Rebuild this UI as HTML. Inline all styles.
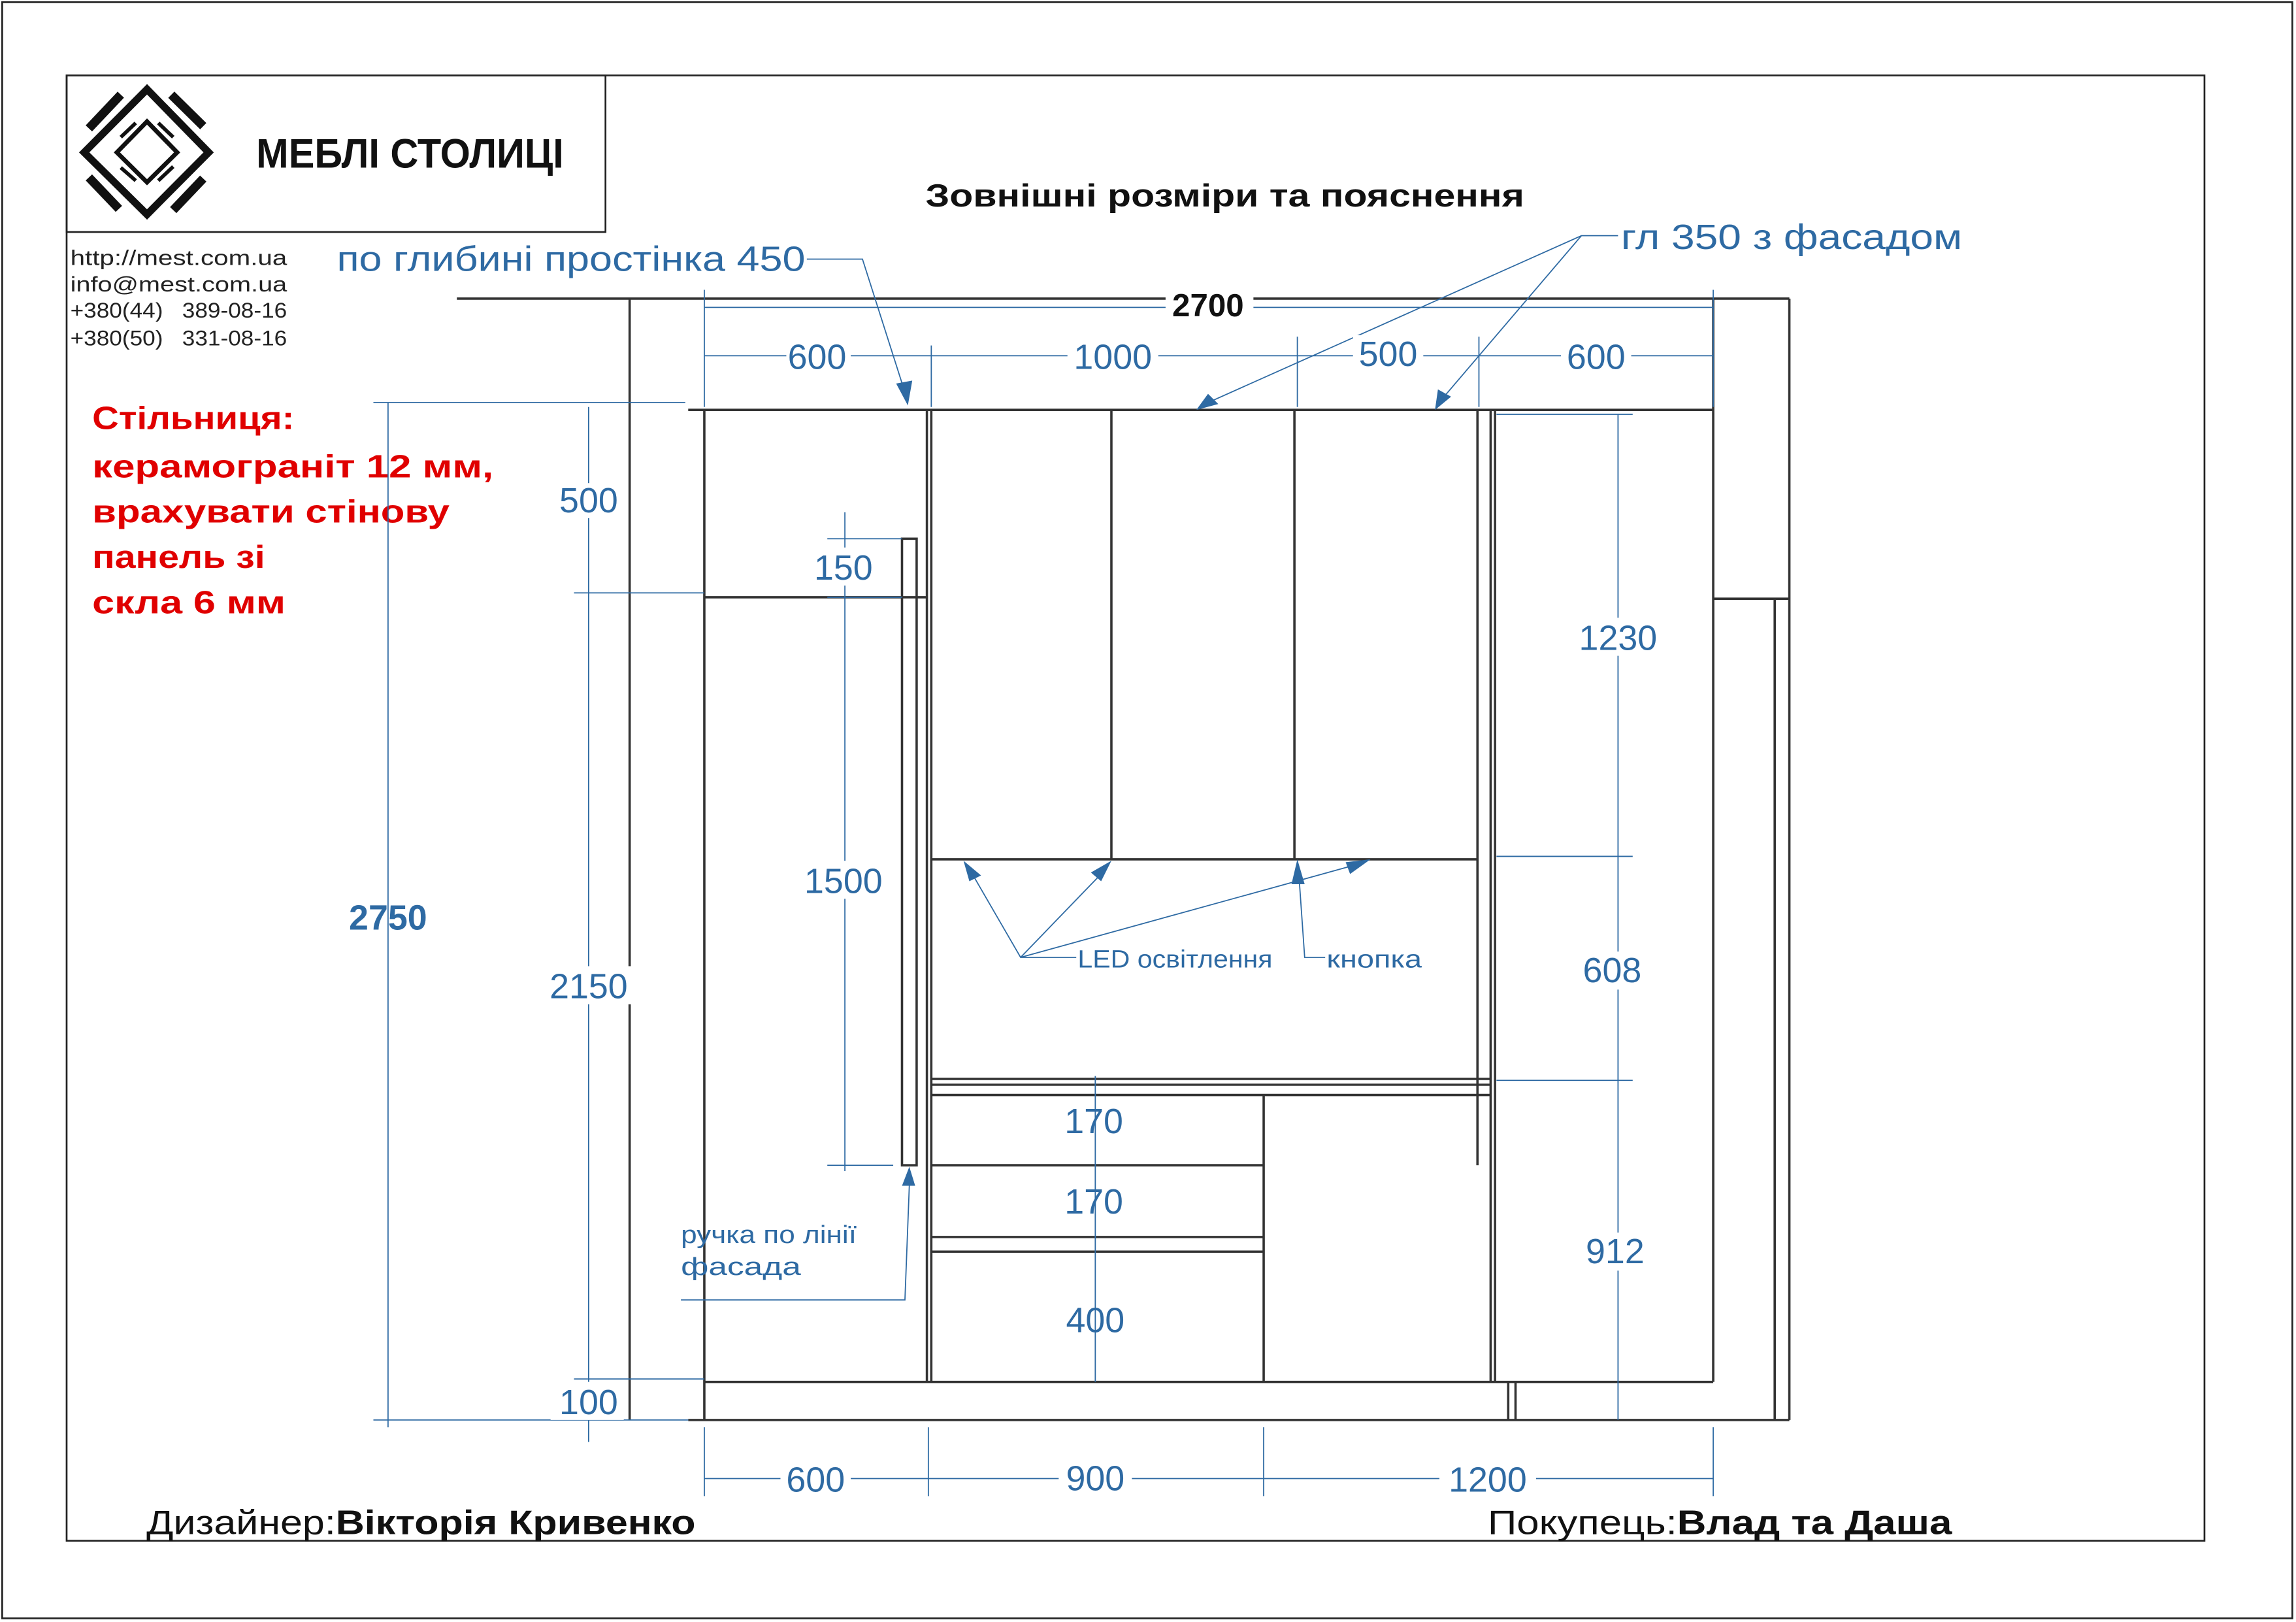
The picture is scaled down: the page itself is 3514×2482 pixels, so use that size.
<!DOCTYPE html>
<html><head><meta charset="utf-8"><style>
html,body{margin:0;padding:0;background:#fff;}
svg{display:block;}
text{font-family:"Liberation Sans","DejaVu Sans",sans-serif;}
.b{fill:#2e6aa3;}
</style></head><body>
<svg width="3514" height="2482" viewBox="0 0 1568 1108" preserveAspectRatio="none" xmlns="http://www.w3.org/2000/svg">
<rect x="0" y="0" width="1568" height="1108" fill="#fff"/>
<rect x="1.5" y="1.5" width="1564" height="1104" fill="none" stroke="#222" stroke-width="1.2"/>
<rect x="45.5" y="51.5" width="1460" height="1001" fill="none" stroke="#222" stroke-width="1.2"/>
<rect x="45.5" y="51.5" width="368" height="107" fill="none" stroke="#222" stroke-width="1.2"/>
<!-- logo -->
<g stroke="#111" fill="none" stroke-linecap="butt">
<polygon points="100.4,61 57.5,104.1 100.4,146.5 142.5,104.1" stroke-width="5"/>
<polygon points="100.4,83 79.8,104.1 100.4,124.5 121,104.1" stroke-width="3"/>
<line x1="60.7" y1="87.7" x2="82.5" y2="64.7" stroke-width="6"/>
<line x1="117" y1="64.7" x2="138.8" y2="86.2" stroke-width="6"/>
<line x1="60.7" y1="121.2" x2="81.2" y2="142.7" stroke-width="6"/>
<line x1="118.3" y1="143.5" x2="138.8" y2="122" stroke-width="6"/>
<line x1="82.5" y1="93.7" x2="92.7" y2="84" stroke-width="2.5"/>
<line x1="108.1" y1="84" x2="118.3" y2="93.7" stroke-width="2.5"/>
<line x1="82.5" y1="114.5" x2="92.7" y2="123.4" stroke-width="2.5"/>
<line x1="108.1" y1="123.4" x2="118.3" y2="113.8" stroke-width="2.5"/>
</g>
<text x="175" y="114.5" font-size="28" font-weight="bold" fill="#111" textLength="210" lengthAdjust="spacingAndGlyphs">МЕБЛІ СТОЛИЦІ</text>
<g font-size="14.5" fill="#222">
<text x="48" y="181" textLength="148" lengthAdjust="spacingAndGlyphs">http://mest.com.ua</text>
<text x="48" y="199" textLength="148" lengthAdjust="spacingAndGlyphs">info@mest.com.ua</text>
<text x="48" y="217" textLength="148" lengthAdjust="spacingAndGlyphs">+380(44)&#160;&#160;&#160;389-08-16</text>
<text x="48" y="236" textLength="148" lengthAdjust="spacingAndGlyphs">+380(50)&#160;&#160;&#160;331-08-16</text>
</g>
<text x="632" y="141" font-size="22" font-weight="bold" fill="#111" textLength="409" lengthAdjust="spacingAndGlyphs">Зовнішні розміри та пояснення</text>
<g font-size="22" font-weight="bold" fill="#e00000">
<text x="63" y="293" textLength="138" lengthAdjust="spacingAndGlyphs">Стільниця:</text>
<text x="63" y="326" textLength="274" lengthAdjust="spacingAndGlyphs">керамограніт 12 мм,</text>
<text x="63" y="357" textLength="244" lengthAdjust="spacingAndGlyphs">врахувати стінову</text>
<text x="63" y="388" textLength="118" lengthAdjust="spacingAndGlyphs">панель зі</text>
<text x="63" y="419" textLength="132" lengthAdjust="spacingAndGlyphs">скла 6 мм</text>
</g>
<!-- walls & furniture -->
<g fill="none" stroke="#333" stroke-width="1.6">
<line x1="312" y1="204" x2="1222" y2="204"/>
<line x1="430" y1="204" x2="430" y2="970"/>
<line x1="1222" y1="204" x2="1222" y2="970"/>
<line x1="1170" y1="204" x2="1170" y2="944"/>
<line x1="1170" y1="409" x2="1222" y2="409"/>
<line x1="1212" y1="409" x2="1212" y2="970"/>
<line x1="470" y1="280" x2="1170" y2="280"/>
<line x1="470" y1="970" x2="1222" y2="970"/>
<line x1="481" y1="280" x2="481" y2="970"/>
<line x1="481" y1="944" x2="1170" y2="944"/>
<line x1="1030" y1="944" x2="1030" y2="970"/><line x1="1035" y1="944" x2="1035" y2="970"/>
<line x1="633" y1="280" x2="633" y2="944"/><line x1="636" y1="280" x2="636" y2="944"/>
<line x1="481" y1="408" x2="633" y2="408"/>
<rect x="616" y="368" width="10" height="428"/>
<line x1="759" y1="280" x2="759" y2="587"/>
<line x1="884" y1="280" x2="884" y2="587"/>
<line x1="636" y1="587" x2="1009" y2="587"/>
<line x1="1009" y1="280" x2="1009" y2="796"/>
<line x1="1018" y1="280" x2="1018" y2="944"/>
<line x1="1021" y1="280" x2="1021" y2="944"/>
<line x1="636" y1="737" x2="1018" y2="737"/>
<line x1="636" y1="741" x2="1018" y2="741"/>
<line x1="636" y1="748" x2="1018" y2="748"/>
<line x1="863" y1="748" x2="863" y2="944"/>
<line x1="636" y1="796" x2="863" y2="796"/>
<line x1="636" y1="845" x2="863" y2="845"/>
<line x1="636" y1="855" x2="863" y2="855"/>
</g>
<g fill="none" stroke="#2e6aa3" stroke-width="0.8">
<line x1="481" y1="210" x2="1170" y2="210"/>
<line x1="481" y1="243" x2="1170" y2="243"/>
<line x1="481" y1="198" x2="481" y2="278"/><line x1="636" y1="236" x2="636" y2="278"/>
<line x1="886" y1="230" x2="886" y2="278"/><line x1="1010" y1="230" x2="1010" y2="278"/>
<line x1="1170" y1="198" x2="1170" y2="278"/>
<line x1="481" y1="1010" x2="1170" y2="1010"/>
<line x1="481" y1="975" x2="481" y2="1022"/><line x1="634" y1="975" x2="634" y2="1022"/>
<line x1="863" y1="975" x2="863" y2="1022"/><line x1="1170" y1="975" x2="1170" y2="1022"/>
<line x1="265" y1="275" x2="265" y2="975"/>
<line x1="255" y1="275" x2="468" y2="275"/><line x1="255" y1="970" x2="470" y2="970"/>
<line x1="402" y1="278" x2="402" y2="985"/>
<line x1="392" y1="405" x2="481" y2="405"/><line x1="392" y1="942" x2="481" y2="942"/>
<line x1="577" y1="350" x2="577" y2="800"/>
<line x1="565" y1="368" x2="616" y2="368"/><line x1="565" y1="408" x2="616" y2="408"/><line x1="565" y1="796" x2="610" y2="796"/>
<line x1="1105" y1="283" x2="1105" y2="970"/>
<line x1="1022" y1="283" x2="1115" y2="283"/>
<line x1="1022" y1="585" x2="1115" y2="585"/><line x1="1022" y1="738" x2="1115" y2="738"/>
<line x1="748" y1="735" x2="748" y2="944"/>
<polyline points="551,177 589,177 618,268"/>
<polyline points="1105,161 1080,161 825,275"/>
<line x1="1080" y1="161" x2="987" y2="270"/>
<polyline points="735,654 697,654 664,597"/>
<line x1="697" y1="654" x2="752" y2="597"/>
<line x1="697" y1="654" x2="925" y2="591"/>
<polyline points="905,654 891,654 887,597"/>
<polyline points="465,888 618,888 621,810"/>
</g>
<g fill="#2e6aa3">
<polygon points="620,277 612,262 623,260"/>
<polygon points="817,280 825,269 832,276"/>
<polygon points="980,280 982,266 991,271"/>
<polygon points="658,588 670,598 662,602"/>
<polygon points="759,588 752,602 745,596"/>
<polygon points="936,587 922,597 919,589"/>
<polygon points="886,587 891,604 882,604"/>
<polygon points="621,797 625,810 616,810"/>
</g>
<g font-size="24" class="b" text-anchor="middle">
<g fill="#fff"><rect x="537" y="231" width="44" height="24"/><rect x="729" y="231" width="62" height="24"/><rect x="924" y="229" width="48" height="24"/><rect x="1066" y="231" width="48" height="24"/>
<rect x="533" y="998" width="48" height="24"/><rect x="723" y="998" width="50" height="24"/><rect x="983" y="998" width="66" height="24"/>
<rect x="378" y="330" width="48" height="24"/><rect x="372" y="660" width="62" height="26"/><rect x="376" y="944" width="50" height="26"/>
<rect x="553" y="374" width="46" height="26"/><rect x="545" y="588" width="62" height="26"/>
<rect x="1074" y="422" width="62" height="26"/><rect x="1078" y="650" width="48" height="26"/><rect x="1080" y="842" width="48" height="26"/>
<rect x="796" y="196" width="60" height="24"/></g>
<text x="558" y="252" class="b">600</text>
<text x="760" y="252" class="b">1000</text>
<text x="948" y="250" class="b">500</text>
<text x="1090" y="252" class="b">600</text>
<text x="557" y="1019" class="b">600</text>
<text x="748" y="1018" class="b">900</text>
<text x="1016" y="1019" class="b">1200</text>
<text x="402" y="350" class="b">500</text>
<text x="402" y="682" class="b">2150</text>
<text x="402" y="966" class="b">100</text>
<text x="576" y="396" class="b">150</text>
<text x="576" y="610" class="b">1500</text>
<text x="1105" y="444" class="b">1230</text>
<text x="1101" y="671" class="b">608</text>
<text x="1103" y="863" class="b">912</text>
<text x="747" y="774" class="b">170</text>
<text x="747" y="829" class="b">170</text>
<text x="748" y="910" class="b">400</text>
<text x="265" y="635" font-weight="bold" class="b">2750</text>
<text x="825" y="216" font-size="22" font-weight="bold" fill="#111">2700</text>
</g>
<g class="b">
<text x="230" y="185" font-size="24" textLength="320" lengthAdjust="spacingAndGlyphs">по глибині простінка 450</text>
<text x="1107" y="170" font-size="24" textLength="233" lengthAdjust="spacingAndGlyphs">гл 350 з фасадом</text>
<text x="736" y="661" font-size="17" textLength="133" lengthAdjust="spacingAndGlyphs">LED освітлення</text>
<text x="906" y="661" font-size="17" textLength="65" lengthAdjust="spacingAndGlyphs">кнопка</text>
<text x="465" y="849" font-size="17" textLength="120" lengthAdjust="spacingAndGlyphs">ручка по лінії</text>
<text x="465" y="871" font-size="17" textLength="82" lengthAdjust="spacingAndGlyphs">фасада</text>
</g>
<text x="100" y="1048" font-size="23" fill="#111" textLength="375" lengthAdjust="spacingAndGlyphs">Дизайнер:<tspan font-weight="bold">Вікторія Кривенко</tspan></text>
<text x="1016" y="1048" font-size="23" fill="#111" textLength="317" lengthAdjust="spacingAndGlyphs">Покупець:<tspan font-weight="bold">Влад та Даша</tspan></text>
</svg>
</body></html>
